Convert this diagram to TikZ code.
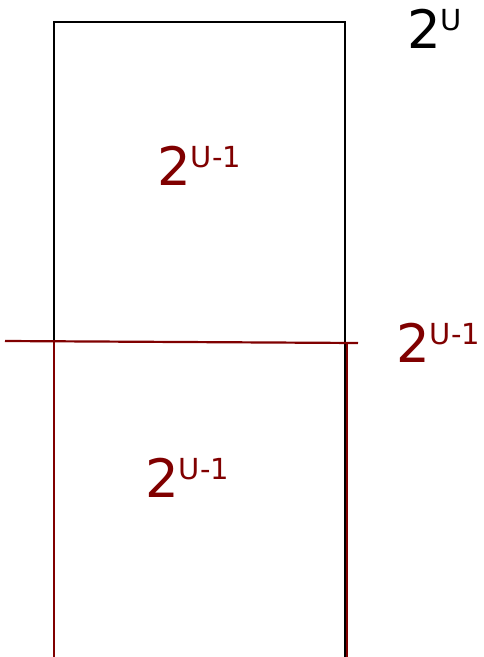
\documentclass[tikz,border=0pt]{standalone}
\usepackage{fontspec}
\setmainfont{DejaVu Sans}
\usetikzlibrary{positioning}
\definecolor{darkred}{RGB}{128,0,0}

% power label: big base, raised exponent
\newcommand{\powlab}[2]{{\fontsize{53}{53}\selectfont #1}{\fontsize{29}{29}\selectfont\raisebox{17.5pt}{#2}}}

\begin{document}
\begin{tikzpicture}[x=1pt,y=-1pt,
    lbl/.style={inner sep=0pt, anchor=base west},
    half/.style={darkred, line width=2.8pt}]
    \useasboundingbox (0,0) rectangle (483,657);
    % Whole block (runs off the bottom)
    \coordinate (tl) at (54,22);
    \coordinate (tr) at (345,22);
    \draw[black, line width=2pt] (54,665) -- (tl) -- (tr) -- (345,665);
    \node[lbl] (whole) at (407,48) {\powlab{2}{U}};

    % Cut line
    \coordinate (cutl) at (5,341);
    \coordinate (cutr) at (358,343);
    \draw[half, line width=2.2pt] (cutl) -- (cutr);
    \node[lbl, darkred] (cut) at (396,362) {\powlab{2}{U-1}};

    % Lower half
    \draw[half] (54,342) -- (54,665);
    \draw[half] (347,343) -- (347,665);

    % Half labels
    \node[lbl, darkred] (upper) at (157,185) {\powlab{2}{U-1}};
    \node[lbl, darkred] (lower) at (145,497) {\powlab{2}{U-1}};
\end{tikzpicture}
\end{document}
